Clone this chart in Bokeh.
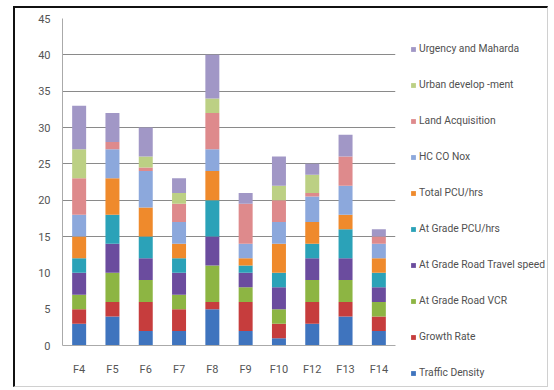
from bokeh.plotting import figure
from bokeh.layouts import row, column
from bokeh.models import Legend, LegendItem, FixedTicker, Range1d, FactorRange, ColumnDataSource
from bokeh.embed import file_html
from bokeh.resources import INLINE

categories = ["F4", "F5", "F6", "F7", "F8", "F9", "F10", "F12", "F13", "F14"]
series_names = ["Traffic Density", "Growth Rate", "At Grade Road VCR", "At Grade Road Travel speed",
                "At Grade PCU/hrs", "Total PCU/hrs", "HC CO Nox", "Land Acquisition",
                "Urban develop -ment", "Urgency and Maharda"]
traffic_density = [3, 4, 2, 2, 5, 2, 1, 3, 4, 2]
growth_rate = [2, 2, 4, 3, 1, 4, 2, 3, 2, 2]
grade_road_vcr = [2, 4, 3, 2, 5, 2, 2, 3, 3, 2]
travel_speed = [3, 4, 3, 3, 4, 2, 3, 3, 3, 2]
grade_pcu = [2, 4, 3, 2, 5, 1, 2, 2, 4, 2]
total_pcu = [3, 5, 4, 2, 4, 1, 4, 3, 2, 2]
hc_co_nox = [3, 4, 5, 3, 3, 2, 3, 3.5, 4, 2]
land_acquisition = [5, 1, 0.5, 2.5, 5, 5.5, 3, 0.5, 4, 1]
urban_development = [4, 0, 1.5, 1.5, 2, 0, 2, 2.5, 0, 0]
urgency_maharda = [6, 4, 4, 2, 6, 1.5, 4, 1.5, 3, 1]
y_ticks = [0, 5, 10, 15, 20, 25, 30, 35, 40, 45]
grid_ticks = [15, 20, 25, 30, 35, 40]

colors = ["#3F74BE", "#C63D3D", "#8DB543", "#6B4C9E", "#2BA2B8", "#EF8A2C",
          "#8CA8DC", "#DE8A8C", "#BCD084", "#A197C6"]

keys = ["s%d" % i for i in range(10)]
data = dict(cat=categories)
for k, v in zip(keys, [traffic_density, growth_rate, grade_road_vcr, travel_speed, grade_pcu,
                       total_pcu, hc_co_nox, land_acquisition, urban_development, urgency_maharda]):
    data[k] = v
src = ColumnDataSource(data)

FONT = "Roboto"

p = figure(x_range=FactorRange(*categories), y_range=Range1d(0, 45),
           width=383, height=378, output_backend="svg", toolbar_location=None,
           min_border_left=47, min_border_top=10, min_border_bottom=41, min_border_right=3)
p.outline_line_color = None
p.background_fill_color = "white"
p.border_fill_color = "white"

renderers = p.vbar_stack(keys, x="cat", width=0.42, color=colors, source=src, line_color=None)

p.xgrid.visible = False
p.ygrid.ticker = FixedTicker(ticks=grid_ticks)
p.ygrid.grid_line_color = "#8a8a8a"
p.ygrid.grid_line_width = 1.2

p.yaxis.ticker = FixedTicker(ticks=y_ticks)
for ax in (p.xaxis[0], p.yaxis[0]):
    ax.axis_line_color = "#aaaaaa"
    ax.major_tick_line_color = None
    ax.minor_tick_line_color = None
    ax.major_label_text_font = FONT
    ax.major_label_text_font_size = "11px"
    ax.major_label_text_color = "#555555"
p.xaxis.major_label_standoff = 11
p.yaxis.major_label_standoff = 6

# legend panel: a separate figure whose stacked bars lie outside its visible range,
# so only the legend swatches and labels show
pl = figure(width=149, height=378, output_backend="svg", toolbar_location=None,
            x_range=FactorRange(*categories), y_range=Range1d(1000, 1001),
            x_axis_type=None, y_axis_type=None,
            min_border_left=0, min_border_right=0, min_border_top=0, min_border_bottom=0)
pl.outline_line_color = None
pl.border_fill_color = "white"
pl.background_fill_color = "white"
pl.xgrid.visible = False
pl.ygrid.visible = False
swatches = pl.vbar_stack(keys, x="cat", width=0.42, color=colors, source=src, line_color=None)

items = [LegendItem(label=series_names[i], renderers=[swatches[i]]) for i in range(9, -1, -1)]
legend = Legend(items=items, location=(12, 7), orientation="vertical")
legend.glyph_width = 6
legend.glyph_height = 6
legend.label_height = 12
legend.spacing = 23
legend.padding = 0
legend.margin = 0
legend.label_standoff = 3
legend.border_line_color = None
legend.background_fill_alpha = 0
legend.label_text_font = FONT
legend.label_text_font_size = "10.3px"
legend.label_text_color = "#505050"
pl.add_layout(legend)

layout = row(p, column(pl), spacing=0)
layout.margin = (6, 0, 0, 13)
layout.styles = {"border-top": "2px solid #111", "border-left": "2px solid #111",
                 "border-right": "1px solid #d0d0d0", "border-bottom": "1px solid #d0d0d0"}

open("out.html", "w").write(file_html(layout, INLINE))
